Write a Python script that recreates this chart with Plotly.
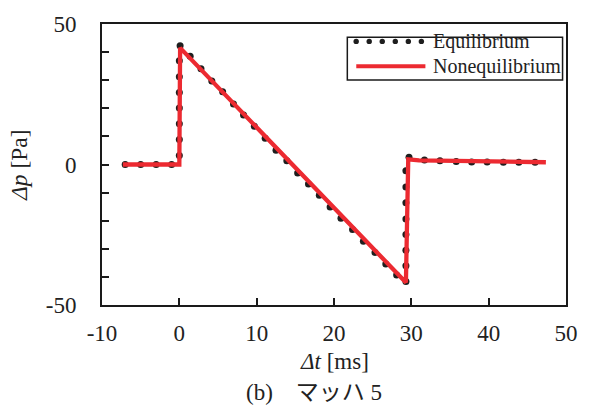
import plotly.graph_objects as go

# Equilibrium (dotted series)
eq_t = [-7.0, -5.0, -3.0, -1.0,
        0.0, 0.0, 0.0, 0.0, 0.0, 0.0, 0.0, 0.1,
        1.4, 2.8, 4.2, 5.6, 7.0, 8.3, 9.7, 11.1, 12.5, 13.9,
        15.3, 16.7, 18.1, 19.5, 20.9, 22.4, 23.8, 25.3, 26.7, 28.1,
        29.3,
        29.3, 29.3, 29.3, 29.3, 29.3, 29.3, 29.3, 29.7,
        31.7, 33.7, 35.8, 37.8, 39.8, 41.9, 43.9, 46.0]
eq_p = [0.0, 0.0, 0.0, 0.0,
        3.2, 8.9, 14.5, 20.1, 25.6, 31.2, 36.9, 42.3,
        38.5, 34.1, 29.7, 25.9, 21.5, 17.6, 13.6, 9.3, 5.1, 1.3,
        -3.0, -6.9, -10.9, -15.1, -19.1, -23.1, -27.3, -31.3, -35.4, -39.3,
        -41.6,
        -36.0, -30.5, -24.9, -19.4, -13.6, -8.0, -2.2, 2.6,
        1.6, 1.3, 1.1, 0.9, 0.9, 0.8, 0.8, 0.8]

# Nonequilibrium (solid red) – vertices
neq_t = [-7.3, 0.0, 0.1, 29.3, 29.6, 31.0, 47.4]
neq_p = [0.0, 0.0, 41.5, -42.0, 1.8, 1.5, 0.8]

x_ticks = [-10, 0, 10, 20, 30, 40, 50]
x_labels = ["-10", "0", "10", "20", "30", "40", "50"]
y_ticks = [-50, 0, 50]
y_labels = ["-50", "0", "50"]

SERIF = "Times New Roman"
CAPTION_FONT = "Times New Roman, Noto Sans CJK JP"
RED = "#ec2a31"
DOT = "#1e1e1e"
INK = "#1a1a1a"
TXT = "#222"

W, H = 590, 408
ML, MR, MT, MB = 102, 17, 21, 103
PW, PH = W - ML - MR, H - MT - MB

fig = go.Figure()
fig.add_trace(go.Scatter(x=eq_t, y=eq_p, mode="markers", name="Equilibrium",
                         marker=dict(size=7, color=DOT), showlegend=False))
fig.add_trace(go.Scatter(x=neq_t, y=neq_p, mode="lines", name="Nonequilibrium",
                         line=dict(color=RED, width=4.3), showlegend=False))

fig.update_xaxes(range=[-10, 50], tickmode="array", tickvals=x_ticks, ticktext=x_labels,
                 showline=True, linecolor=INK, linewidth=2, mirror=True,
                 showgrid=False, zeroline=False, ticklabelstandoff=6,
                 tickfont=dict(family=SERIF, size=23, color=TXT),
                 ticks="inside", ticklen=7, tickwidth=1.5, tickcolor=INK)
fig.update_yaxes(range=[-50, 50], tickmode="array", tickvals=y_ticks, ticktext=y_labels,
                 showline=True, linecolor=INK, linewidth=2, mirror=True,
                 showgrid=False, zeroline=False, ticklabelstandoff=19,
                 tickfont=dict(family=SERIF, size=23, color=TXT),
                 ticks="inside", ticklen=7, tickwidth=1.5, tickcolor=INK,
                 minor=dict(dtick=10, ticks="inside", ticklen=7, tickwidth=1.5,
                            tickcolor=INK))

# Custom legend (framed box, dotted sample, line sample, labels) in paper coordinates
shapes = [dict(type="rect", xref="paper", yref="paper", x0=0.5287, x1=0.9926,
               y0=0.8009, y1=0.9532, line=dict(color=INK, width=1.5),
               fillcolor="white", layer="above")]
for k in range(6):
    xc = 0.5478 + k * 0.0281
    shapes.append(dict(type="circle", xref="paper", yref="paper",
                       xsizemode="pixel", ysizemode="pixel",
                       xanchor=xc, yanchor=0.938, x0=-2.7, x1=2.7, y0=-2.7, y1=2.7,
                       fillcolor=DOT, line=dict(width=0), layer="above"))
shapes.append(dict(type="line", xref="paper", yref="paper", x0=0.548, x1=0.697,
                   y0=0.850, y1=0.850, line=dict(color=RED, width=4), layer="above"))

annotations = [
    dict(text="Equilibrium", xref="paper", yref="paper", x=0.710, y=0.938,
         xanchor="left", yanchor="middle", showarrow=False,
         font=dict(family=SERIF, size=20, color=TXT)),
    dict(text="Nonequilibrium", xref="paper", yref="paper", x=0.710, y=0.850,
         xanchor="left", yanchor="middle", showarrow=False,
         font=dict(family=SERIF, size=20, color=TXT)),
    dict(text="<i>Δt</i> [ms]", xref="paper", yref="paper", x=0.5, y=-0.2,
         xanchor="center", yanchor="middle", showarrow=False,
         font=dict(family=SERIF, size=23, color=TXT)),
    dict(text="<i>Δp</i> [Pa]", xref="paper", yref="paper", x=-0.18, y=0.5,
         xanchor="center", yanchor="middle", showarrow=False, textangle=-90,
         font=dict(family=SERIF, size=23.5, color=TXT)),
    dict(text="(b)\u3000マッハ 5", xref="paper", yref="paper", x=0.457, y=-0.312,
         xanchor="center", yanchor="middle", showarrow=False,
         font=dict(family=CAPTION_FONT, size=23, color=TXT)),
]

fig.update_layout(width=W, height=H,
                  margin=dict(l=ML, r=MR, t=MT, b=MB),
                  paper_bgcolor="white", plot_bgcolor="white",
                  font=dict(family=SERIF, color=TXT),
                  shapes=shapes, annotations=annotations, showlegend=False)

fig.write_html("out.html")
